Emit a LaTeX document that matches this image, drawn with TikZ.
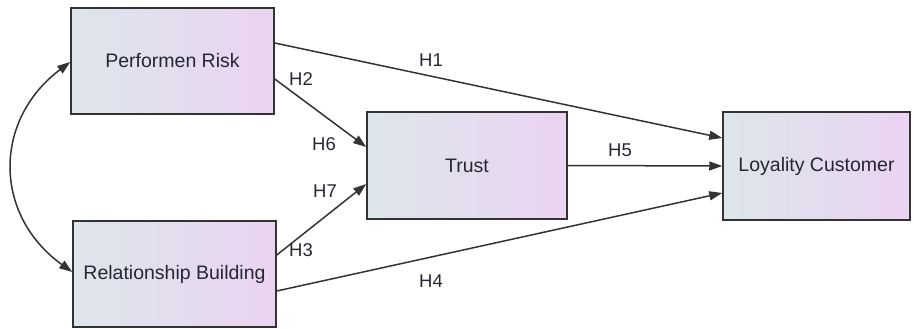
\documentclass[tikz,border=0pt]{standalone}
\usepackage{fontspec}
\setmainfont{Liberation Sans}
\usetikzlibrary{arrows.meta,shadings}
\definecolor{boxL}{HTML}{DDE6EB}
\definecolor{boxR}{HTML}{EBD3F2}
\definecolor{edgeC}{HTML}{333333}
\definecolor{txtC}{HTML}{262633}
\tikzset{
  varbox/.style={draw=edgeC, line width=1.5pt, left color=boxL, right color=boxR,
    inner sep=0pt, text=txtC, font=\fontsize{19.5}{22}\selectfont},
  path/.style={draw=edgeC, line width=1.5pt, -{Triangle[length=13pt,width=9pt]}},
  hlab/.style={text=txtC, font=\fontsize{18.5}{20}\selectfont, inner sep=0pt},
}
\begin{document}
\begin{tikzpicture}[x=1pt,y=-1pt]
\useasboundingbox (0,0) rectangle (914,329);
\node[varbox, minimum width=203pt, minimum height=106pt] (pr) at (172.5,61) {Performen Risk};
\node[varbox, minimum width=203pt, minimum height=106pt] (rb) at (174.5,274) {Relationship Building};
\node[varbox, minimum width=200pt, minimum height=107pt] (tr) at (467,165.5) {Trust};
\node[varbox, minimum width=187pt, minimum height=108pt] (lc) at (816.5,166) {Loyality Customer};

\draw[path] ([yshift=18pt]pr.east) -- ([yshift=28pt]lc.west);
\draw[path] ([yshift=-18pt]pr.east) -- ([yshift=18.5pt]tr.west);
\draw[path] ([yshift=19pt]rb.east) -- ([yshift=-18.5pt]tr.west);
\draw[path] ([yshift=-17pt]rb.east) -- ([yshift=-27pt]lc.west);
\draw[path] (tr.east) -- (lc.west);
\draw[draw=edgeC, line width=1.5pt, {Triangle[length=13pt,width=9pt]}-{Triangle[length=13pt,width=9pt]}]
  ([yshift=-1pt]pr.west) .. controls (-7,120) and (-7,215) .. ([yshift=2pt]rb.west);

\node[hlab] (h1) at (431,60) {H1};
\node[hlab] (h2) at (301,79) {H2};
\node[hlab] (h6) at (324,144) {H6};
\node[hlab] (h7) at (325,191) {H7};
\node[hlab] (h3) at (301,250) {H3};
\node[hlab] (h4) at (431,281) {H4};
\node[hlab] (h5) at (620,150) {H5};
\end{tikzpicture}
\end{document}
